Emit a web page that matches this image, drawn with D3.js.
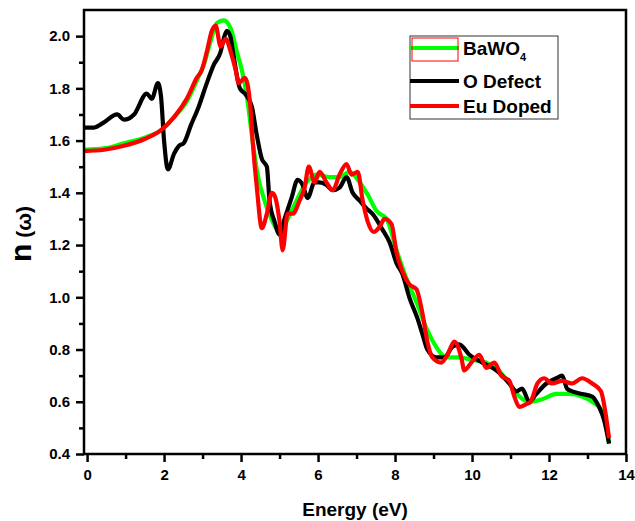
<!DOCTYPE html>
<html>
<head>
<meta charset="utf-8">
<script src="https://cdn.jsdelivr.net/npm/d3@7"></script>
<style>
  body { margin: 0; background: #fff; }
  svg text { font-family: "Liberation Sans", Arial, sans-serif; font-weight: bold; fill: #000; }
</style>
</head>
<body>
<div id="chart"></div>
<script>
// [energy eV, n]
const bawo4 = [[-0.08,1.565],[0.44,1.57],[0.96,1.59],[1.48,1.61],[1.92,1.64],[2.26,1.69],[2.59,1.75],[2.85,1.83],[3.03,1.89],[3.21,1.98],[3.37,2.05],[3.55,2.06],[3.73,2.03],[3.89,1.94],[4.02,1.87],[4.15,1.77],[4.3,1.60],[4.43,1.47],[4.61,1.37],[4.82,1.29],[5.0,1.25],[5.18,1.29],[5.44,1.37],[5.7,1.44],[5.96,1.47],[6.3,1.46],[6.56,1.46],[6.82,1.48],[7.08,1.44],[7.3,1.39],[7.52,1.33],[7.78,1.30],[8.04,1.18],[8.3,1.07],[8.56,0.98],[8.82,0.88],[9.07,0.81],[9.33,0.77],[9.67,0.77],[10.01,0.76],[10.37,0.75],[10.63,0.73],[10.97,0.67],[11.23,0.62],[11.49,0.60],[11.82,0.61],[12.19,0.63],[12.52,0.63],[12.86,0.62],[13.12,0.60],[13.35,0.57],[13.48,0.52],[13.56,0.44]]

const oDefect = [[-0.08,1.65],[0.18,1.65],[0.44,1.67],[0.78,1.70],[0.96,1.68],[1.22,1.70],[1.55,1.78],[1.68,1.76],[1.84,1.82],[1.92,1.77],[2.0,1.60],[2.1,1.49],[2.26,1.55],[2.39,1.58],[2.51,1.59],[2.7,1.66],[2.9,1.73],[3.11,1.82],[3.29,1.89],[3.47,1.94],[3.55,1.99],[3.63,2.02],[3.72,2.00],[3.8,1.93],[3.97,1.80],[4.1,1.78],[4.28,1.73],[4.41,1.62],[4.54,1.53],[4.67,1.50],[4.74,1.37],[4.87,1.29],[5.0,1.24],[5.13,1.30],[5.31,1.38],[5.47,1.45],[5.6,1.43],[5.73,1.38],[5.91,1.44],[6.04,1.44],[6.22,1.43],[6.38,1.41],[6.56,1.42],[6.74,1.46],[6.9,1.40],[7.08,1.37],[7.26,1.34],[7.41,1.32],[7.67,1.26],[7.86,1.21],[8.04,1.13],[8.19,1.09],[8.37,1.00],[8.58,0.92],[8.71,0.86],[8.84,0.80],[9.07,0.77],[9.28,0.77],[9.49,0.81],[9.67,0.82],[9.93,0.78],[10.27,0.75],[10.63,0.72],[10.97,0.67],[11.15,0.64],[11.3,0.65],[11.49,0.60],[11.67,0.63],[11.93,0.67],[12.19,0.69],[12.34,0.70],[12.47,0.65],[12.6,0.64],[12.86,0.63],[13.12,0.62],[13.3,0.58],[13.43,0.53],[13.56,0.44]]

const euDoped = [[-0.08,1.56],[0.44,1.565],[0.96,1.58],[1.48,1.605],[1.92,1.64],[2.26,1.69],[2.59,1.76],[2.85,1.84],[2.98,1.87],[3.11,1.94],[3.24,2.02],[3.34,2.04],[3.47,1.96],[3.6,1.99],[3.73,1.94],[3.86,1.87],[3.94,1.82],[4.1,1.84],[4.23,1.75],[4.3,1.60],[4.41,1.42],[4.54,1.265],[4.67,1.32],[4.8,1.40],[4.87,1.39],[5.0,1.29],[5.08,1.18],[5.21,1.32],[5.34,1.32],[5.52,1.37],[5.65,1.42],[5.76,1.50],[5.91,1.44],[6.04,1.48],[6.22,1.44],[6.38,1.41],[6.56,1.47],[6.74,1.51],[6.87,1.47],[7.03,1.48],[7.16,1.37],[7.29,1.29],[7.45,1.25],[7.6,1.27],[7.73,1.30],[7.91,1.28],[8.04,1.17],[8.19,1.10],[8.37,1.05],[8.56,1.03],[8.71,0.94],[8.84,0.83],[8.97,0.77],[9.2,0.75],[9.36,0.78],[9.54,0.83],[9.72,0.77],[9.8,0.72],[9.98,0.75],[10.19,0.78],[10.37,0.73],[10.58,0.75],[10.76,0.70],[10.97,0.68],[11.1,0.62],[11.23,0.58],[11.4,0.59],[11.52,0.60],[11.7,0.67],[11.87,0.69],[12.08,0.67],[12.34,0.68],[12.6,0.67],[12.86,0.69],[13.12,0.67],[13.35,0.64],[13.43,0.59],[13.56,0.46]]

const seriesNames = ["BaWO4", "O Defect", "Eu Doped"]
const seriesColors = ["#00ff00", "#000000", "#ff0000"]
const xTicks = [0, 2, 4, 6, 8, 10, 12, 14]
const yTicks = [0.4, 0.6, 0.8, 1.0, 1.2, 1.4, 1.6, 1.8, 2.0]

const W = 635, H = 521
const m = {left: 84, top: 10, right: 9, bottom: 67}
const pw = W - m.left - m.right
const ph = H - m.top - m.bottom

let svg = d3.select("#chart").append("svg")
  .attr("width", W).attr("height", H)

let x = d3.scaleLinear().domain([-0.08, 14]).range([0, pw])
let y = d3.scaleLinear().domain([0.4, 2.1]).range([ph, 0])

let g = svg.append("g").attr("transform", `translate(${m.left},${m.top})`)

// minor ticks first (no labels)
g.append("g").attr("transform", `translate(0,${ph})`)
  .call(d3.axisBottom(x).tickValues(d3.range(1, 14, 2)).tickSize(5).tickFormat(""))
g.append("g")
  .call(d3.axisLeft(y).tickValues([0.5, 0.7, 0.9, 1.1, 1.3, 1.5, 1.7, 1.9]).tickSize(5).tickFormat(""))

// major ticks
let xAxis = g.append("g").attr("transform", `translate(0,${ph})`)
  .call(d3.axisBottom(x).tickValues(xTicks).tickSize(8).tickPadding(7).tickFormat(d3.format("d")))
let yAxis = g.append("g")
  .call(d3.axisLeft(y).tickValues(yTicks).tickSize(8).tickPadding(6).tickFormat(d3.format(".1f")))

g.selectAll(".domain").remove()
g.selectAll(".tick line").attr("stroke", "#000").attr("stroke-width", 2.5)
g.selectAll(".tick text").style("font-size", "15px")

// series lines
let line = d3.line()
  .x(d => x(d[0])).y(d => y(d[1]))
  .curve(d3.curveMonotoneX)

;[bawo4, oDefect, euDoped].forEach((s, i) => {
  g.append("path").datum(s)
    .attr("fill", "none")
    .attr("stroke", seriesColors[i])
    .attr("stroke-width", 4.2)
    .attr("stroke-linejoin", "round")
    .attr("d", line)
})

// frame
g.append("rect").attr("x", 0).attr("y", 0).attr("width", pw).attr("height", ph)
  .attr("fill", "none").attr("stroke", "#000").attr("stroke-width", 2.5)

// axis titles
svg.append("text")
  .attr("x", m.left + pw / 2).attr("y", 516)
  .attr("text-anchor", "middle")
  .style("font-size", "19px")
  .text("Energy (eV)")

let yl = svg.append("text")
  .attr("transform", "translate(31,262) rotate(-90)")
  .attr("text-anchor", "start")
yl.append("tspan").style("font-size", "30px").text("n")
yl.append("tspan").style("font-size", "21px").text(" (ω)")

// legend
let lg = svg.append("g")
lg.append("rect").attr("x", 410).attr("y", 36).attr("width", 148).attr("height", 83)
  .attr("fill", "#fff").attr("stroke", "#333").attr("stroke-width", 1)
let rowY = [48, 81, 106]
seriesNames.forEach((name, i) => {
  lg.append("line").attr("x1", 410).attr("x2", 459)
    .attr("y1", rowY[i]).attr("y2", rowY[i])
    .attr("stroke", seriesColors[i]).attr("stroke-width", 4)
  let t = lg.append("text").attr("x", 463).attr("y", rowY[i] + 7).style("font-size", "19px")
  if (name === "BaWO4") {
    t.append("tspan").text("BaWO")
    t.append("tspan").attr("dy", 6).style("font-size", "11px").text("4")
  } else {
    t.text(name)
  }
})
// red highlight box around the first legend swatch
lg.append("rect").attr("x", 412).attr("y", 38).attr("width", 46).attr("height", 23)
  .attr("fill", "none").attr("stroke", "#ff0000").attr("stroke-width", 1)
</script>
</body>
</html>
